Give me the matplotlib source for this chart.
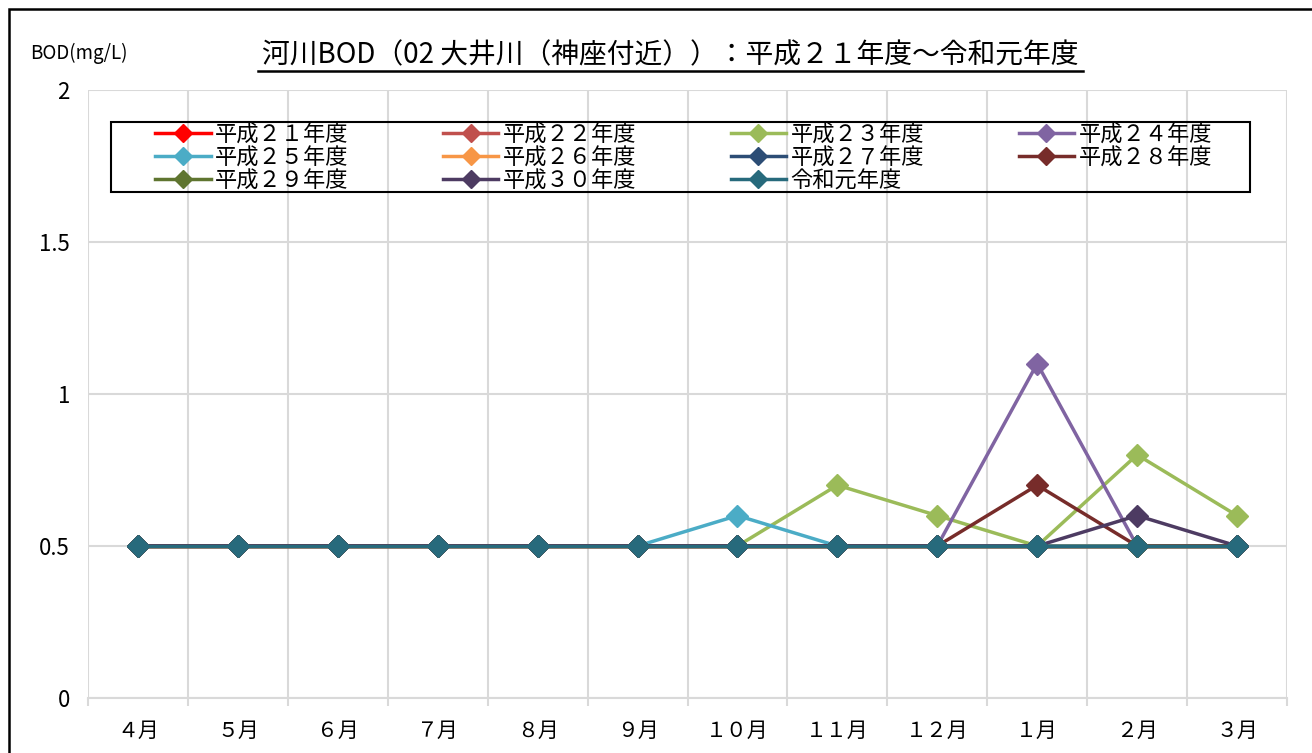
import matplotlib
matplotlib.use("Agg")
import matplotlib.pyplot as plt
from matplotlib.lines import Line2D
from matplotlib.patches import Rectangle

plt.rcParams['font.family'] = ['Noto Sans CJK JP', 'DejaVu Sans']

months = ["４月", "５月", "６月", "７月", "８月", "９月", "１０月", "１１月", "１２月", "１月", "２月", "３月"]
series_names = ["平成２１年度", "平成２２年度", "平成２３年度", "平成２４年度", "平成２５年度", "平成２６年度",
                "平成２７年度", "平成２８年度", "平成２９年度", "平成３０年度", "令和元年度"]
h21 = [0.5] * 12
h22 = [0.5] * 12
h23 = [0.5, 0.5, 0.5, 0.5, 0.5, 0.5, 0.5, 0.7, 0.6, 0.5, 0.8, 0.6]
h24 = [0.5, 0.5, 0.5, 0.5, 0.5, 0.5, 0.5, 0.5, 0.5, 1.1, 0.5, 0.5]
h25 = [0.5, 0.5, 0.5, 0.5, 0.5, 0.5, 0.6, 0.5, 0.5, 0.5, 0.5, 0.5]
h26 = [0.5] * 12
h27 = [0.5] * 12
h28 = [0.5, 0.5, 0.5, 0.5, 0.5, 0.5, 0.5, 0.5, 0.5, 0.7, 0.5, 0.5]
h29 = [0.5] * 12
h30 = [0.5, 0.5, 0.5, 0.5, 0.5, 0.5, 0.5, 0.5, 0.5, 0.5, 0.6, 0.5]
r01 = [0.5] * 12
values = [h21, h22, h23, h24, h25, h26, h27, h28, h29, h30, r01]
colors = ["#FF0000", "#C0504D", "#9BBB59", "#8064A2", "#4BACC6", "#F79646",
          "#2C4D75", "#772C2A", "#5F7530", "#4D3B62", "#276A7C"]
yticks = [0, 0.5, 1, 1.5, 2]
ytick_labels = ["0", "0.5", "1", "1.5", "2"]

W, H = 1312, 753
fig = plt.figure(figsize=(W / 100, H / 100), dpi=100)
ax = fig.add_axes([88 / W, 1 - 698 / H, (1287 - 88) / W, (698 - 90) / H])

x = list(range(len(months)))
handles = []
for name, vals, c in zip(series_names, values, colors):
    h, = ax.plot(x, vals, color=c, lw=2.5, marker='D', markersize=11.5, label=name, zorder=3)
    handles.append(h)

ax.set_xlim(-0.5, len(months) - 0.5)
ax.set_ylim(0, 2)
ax.set_yticks(yticks)
ax.set_yticklabels(ytick_labels, fontsize=16)
ax.set_xticks(x)
ax.set_xticklabels(months, fontsize=15)
ax.set_xticks([i - 0.5 for i in range(len(months) + 1)], minor=True)
ax.tick_params(axis='x', which='major', length=0, pad=16)
ax.tick_params(axis='x', which='minor', length=6, color='#D9D9D9', width=1.5)
ax.tick_params(axis='y', length=0, pad=13)
ax.grid(True, which='minor', axis='x', color='#D9D9D9', lw=1.5, zorder=0)
ax.grid(True, which='major', axis='y', color='#D9D9D9', lw=1.5, zorder=0)
for s in ['top', 'left', 'right']:
    ax.spines[s].set_visible(False)
ax.spines['bottom'].set_color('#D9D9D9')
ax.spines['bottom'].set_linewidth(1.5)

order = [0, 4, 8, 1, 5, 9, 2, 6, 10, 3, 7]
leg = fig.legend([handles[i] for i in order], [series_names[i] for i in order],
                 loc='upper left', bbox_to_anchor=(155 / W, 1 - 124 / H, (1212 - 155) / W, 0.001),
                 mode='expand', ncol=4, fontsize=16, frameon=False,
                 handlelength=2.5, handletextpad=0.2, labelspacing=0.0,
                 borderpad=0.0, borderaxespad=0, markerscale=0.8)
fig.add_artist(Rectangle((111 / W, 1 - 192 / H), (1250 - 111) / W, 70 / H, transform=fig.transFigure,
                         fill=False, edgecolor='black', lw=1.5, zorder=5))

fig.text(670 / W, 1 - 55 / H, "河川BOD（02 大井川（神座付近））：平成２１年度～令和元年度",
         ha='center', va='center', fontsize=20)
fig.add_artist(Line2D([258 / W, 1083 / W], [1 - 71 / H, 1 - 71 / H], color='black', lw=1.8))
fig.text(30 / W, 1 - 53 / H, "BOD(mg/L)", ha='left', va='center', fontsize=13.5)

fig.add_artist(Rectangle((9 / W, -0.1), 1.2, 1 - 9 / H + 0.1, transform=fig.transFigure,
                         fill=False, edgecolor='black', lw=1.8))

fig.savefig("out.png", dpi=100)
